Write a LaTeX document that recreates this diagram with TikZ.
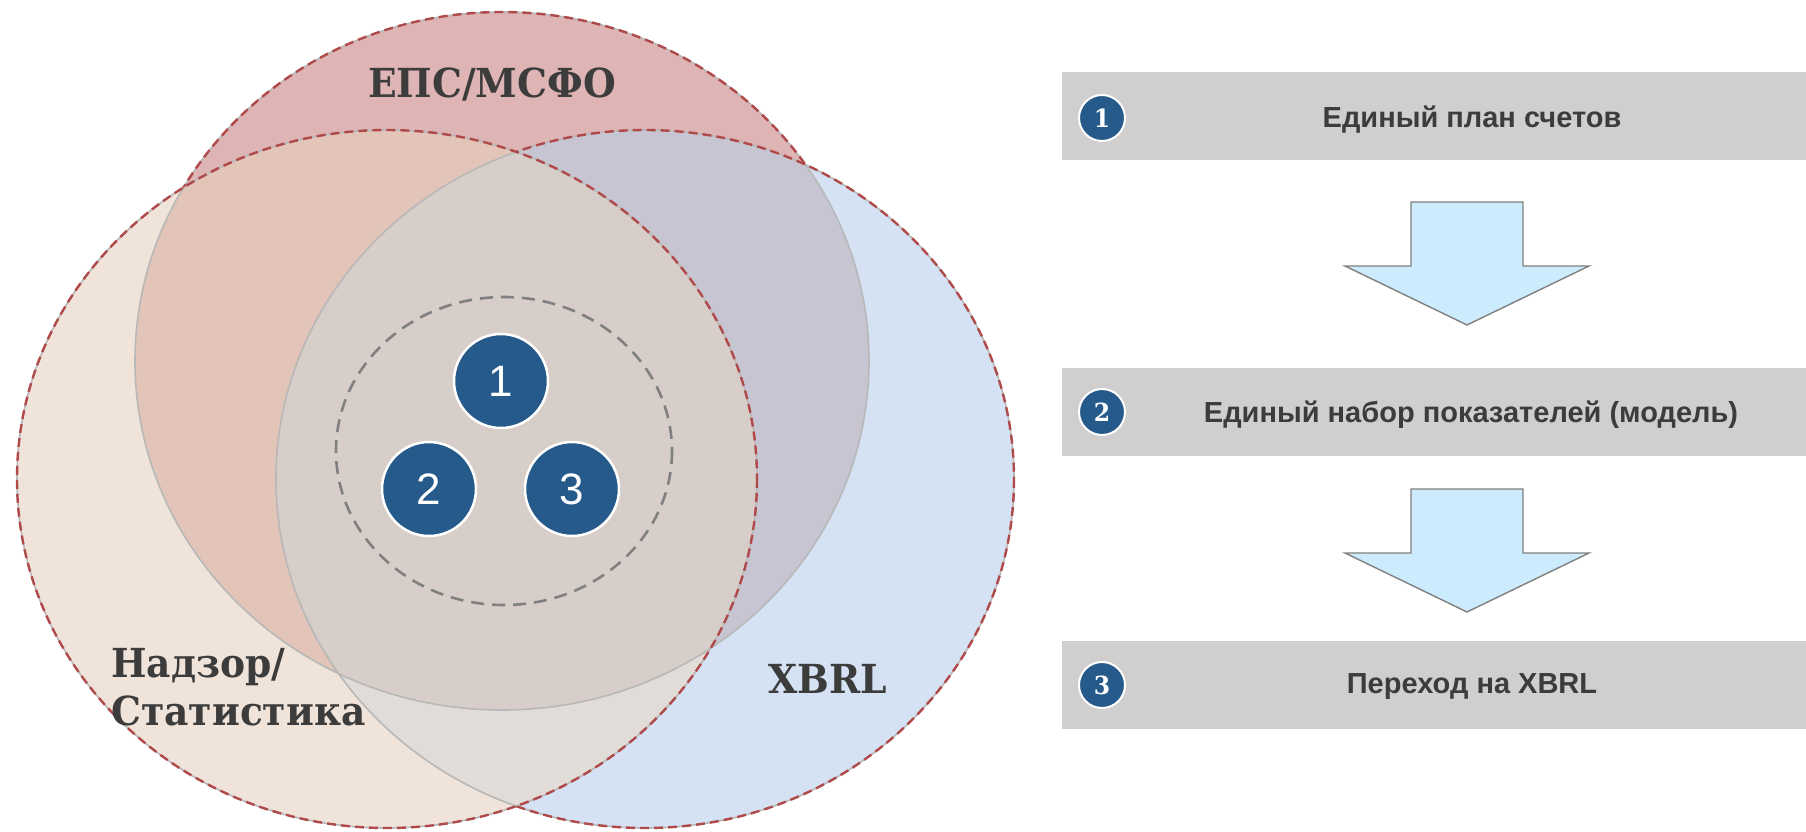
\documentclass[tikz,border=0pt]{standalone}
\usepackage{fontspec}
\setmainfont{Liberation Sans}
\newfontfamily\vennfont{DejaVu Serif}[FakeStretch=0.94]
\definecolor{redonly}{HTML}{DFB4B5}
\definecolor{beigeonly}{HTML}{EFE3DA}
\definecolor{blueonly}{HTML}{D4E2F3}
\definecolor{redbeige}{HTML}{E2C4B8}
\definecolor{redblue}{HTML}{C8C5D3}
\definecolor{beigeblue}{HTML}{E1DCD7}
\definecolor{allthree}{HTML}{D8CEC9}
\definecolor{dashred}{HTML}{B04A4A}
\definecolor{discblue}{HTML}{255A8B}
\definecolor{barcol}{HTML}{D0CECF}
\definecolor{arrowcol}{HTML}{CCEBFD}
\definecolor{inkcol}{HTML}{3C3C3C}

\begin{document}
\begin{tikzpicture}[x=1pt,y=-1pt,
  ringline/.style={draw=black!28, line width=1.6pt},
  reddash/.style={draw=dashred, line width=2.4pt, dash pattern=on 9pt off 5pt},
  innerdash/.style={draw=black!50, line width=2.6pt, dash pattern=on 13pt off 8pt},
  numdisc/.style={circle, fill=discblue, draw=white, line width=2.5pt, minimum size=94pt, inner sep=0pt, text=white, font=\fontsize{44}{50}\selectfont},
  venntext/.style={text=inkcol, font=\vennfont\bfseries\fontsize{40}{46}\selectfont, inner sep=0pt},
  stepbar/.style={fill=barcol, minimum width=744pt, minimum height=88pt, inner sep=0pt, anchor=west},
  steptext/.style={text=inkcol, font=\bfseries\fontsize{29}{34}\selectfont, inner sep=0pt, anchor=base},
  stepnum/.style={circle, fill=discblue, draw=white, line width=2pt, minimum size=46pt, inner sep=0pt, text=white, font=\vennfont\bfseries\fontsize{25}{28}\selectfont},
  blockarrow/.style={fill=arrowcol, draw=black!50, line width=1.4pt, line join=miter}]
\useasboundingbox (0,0) rectangle (1806,832);
\def\redring{(502,361) ellipse [x radius=367, y radius=349]}
\def\beigering{(387,479) ellipse [x radius=370, y radius=349]}
\def\bluering{(645,479) ellipse [x radius=369, y radius=349]}
\def\everywhere{(0,0) -- (0,832) -- (1806,832) -- (1806,0) -- cycle}

\fill[beigeonly] \beigering;
\fill[blueonly] \bluering;
\fill[redonly] \redring;
\begin{scope}
  \clip \redring;
  \fill[redbeige] \beigering;
  \fill[redblue] \bluering;
\end{scope}
\begin{scope}
  \clip \beigering;
  \fill[beigeblue] \bluering;
\end{scope}
\begin{scope}
  \clip \redring;
  \clip \beigering;
  \fill[allthree] \bluering;
\end{scope}
\draw[ringline] \redring;
\draw[ringline] \bluering;
\draw[ringline] \beigering;
\draw[reddash] \beigering;
\begin{scope}
  \clip \everywhere \beigering;
  \draw[reddash] \bluering;
\end{scope}
\begin{scope}
  \clip \everywhere \beigering;
  \clip \everywhere \bluering;
  \draw[reddash] \redring;
\end{scope}
\draw[innerdash] (504,451) ellipse [x radius=168, y radius=154];

\node[numdisc] (n1) at (501,381) {1};
\node[numdisc] (n2) at (429,489) {2};
\node[numdisc] (n3) at (572,489) {3};

\node[venntext, anchor=base] (eps) at (492,98) {ЕПС/МСФО};
\node[venntext, anchor=base west] (nadzor) at (111,677) {Надзор/};
\node[venntext, anchor=base west] (stat) at (111,725) {Статистика};
\node[venntext, anchor=base] (xbrl) at (828,693) {XBRL};

\node[stepbar] (bar1) at (1062,116) {};
\node[stepbar] (bar2) at (1062,412) {};
\node[stepbar] (bar3) at (1062,685) {};
\node[stepnum] (s1) at (1102,118) {1};
\node[stepnum] (s2) at (1102,412) {2};
\node[stepnum] (s3) at (1102,685) {3};
\node[steptext] (t1) at (1472,128) {Единый план счетов};
\node[steptext] (t2) at (1471,422) {Единый набор показателей (модель)};
\node[steptext] (t3) at (1472,693) {Переход на XBRL};

\draw[blockarrow] (1411,202) -- (1523,202) -- (1523,266) -- (1589,266) -- (1467,325) -- (1345,266) -- (1411,266) -- cycle;
\draw[blockarrow] (1411,489) -- (1523,489) -- (1523,553) -- (1589,553) -- (1467,612) -- (1345,553) -- (1411,553) -- cycle;
\end{tikzpicture}
\end{document}
